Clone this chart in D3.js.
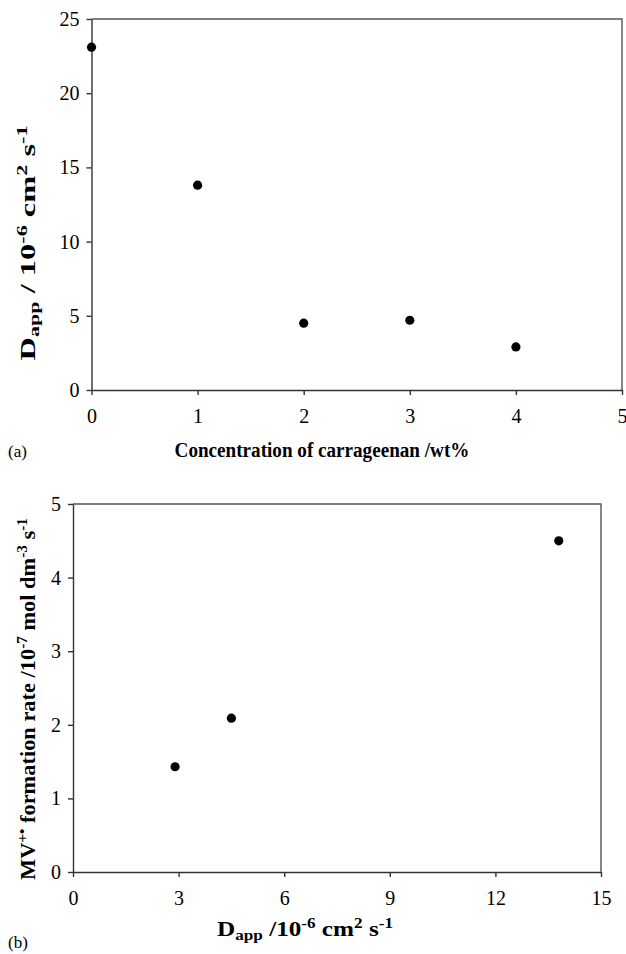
<!DOCTYPE html>
<html>
<head>
<meta charset="utf-8">
<script src="https://cdn.jsdelivr.net/npm/d3@7"></script>
<style>
  body { margin: 0; background: #fff; }
  text { font-family: "Liberation Serif", "Times New Roman", serif; fill: #000; }
</style>
</head>
<body>
<div class="canvas"></div>
<script>
// panel (a): diffusion coefficient vs carrageenan concentration
const concentration = [0, 1, 2, 3, 4];
const dApp = [23.1, 13.8, 4.5, 4.7, 2.9];
const ticksAX = [0, 1, 2, 3, 4, 5];
const ticksAY = [0, 5, 10, 15, 20, 25];

// panel (b): MV+. formation rate vs D_app
const dAppB = [2.9, 4.5, 13.8];
const rateB = [1.43, 2.09, 4.5];
const ticksBX = [0, 3, 6, 9, 12, 15];
const ticksBY = [0, 1, 2, 3, 4, 5];

const serif = '"Liberation Serif", "Times New Roman", serif';

const svg = d3.select('.canvas')
  .append('svg')
  .attr('width', 626)
  .attr('height', 954);

// writes text with sub/superscript pieces
function rich(sel, parts, size) {
  parts.forEach(p => {
    const ts = sel.append('tspan').text(p.t);
    if (p.sup) ts.attr('font-size', size * 0.68).attr('baseline-shift', '55%');
    if (p.sub) ts.attr('font-size', size * 0.68).attr('baseline-shift', '-28%');
  });
}

// label placed at (cx, cy), stretched along its length to len px
function label(g, parts, size, cx, cy, len, rot) {
  const t = g.append('text')
    .attr('text-anchor', 'middle')
    .attr('font-size', size)
    .attr('font-weight', 'bold')
    .attr('font-family', serif);
  rich(t, parts, size);
  const w = t.node().getBBox().width;
  const k = len ? len / w : 1;
  t.attr('transform', `translate(${cx},${cy}) rotate(${rot || 0}) scale(${k},1)`);
  return t;
}

function panel(o) {
  const x = d3.scaleLinear().domain(o.xDom).range([o.left, o.right]);
  const y = d3.scaleLinear().domain(o.yDom).range([o.bottom, o.top]);
  const g = svg.append('g');

  // frame top + right
  g.append('path')
    .attr('d', `M${o.left},${o.top}H${o.right}V${o.bottom}`)
    .attr('fill', 'none')
    .attr('stroke', '#555')
    .attr('stroke-width', 1.4);

  const ax = g.append('g')
    .attr('transform', `translate(0,${o.bottom})`)
    .call(d3.axisBottom(x).tickValues(o.xTicks).tickFormat(d3.format('d'))
      .tickSize(5).tickSizeOuter(0).tickPadding(14));
  const ay = g.append('g')
    .attr('transform', `translate(${o.left},0)`)
    .call(d3.axisLeft(y).tickValues(o.yTicks).tickFormat(d3.format('d'))
      .tickSize(5).tickSizeOuter(0).tickPadding(7));
  [ax, ay].forEach(a => {
    a.attr('font-family', serif).attr('font-size', 20);
    a.selectAll('path, line').attr('stroke', '#333').attr('stroke-width', 1.4);
  });

  g.selectAll('circle')
    .data(o.xs)
    .join('circle')
    .attr('cx', d => x(d))
    .attr('cy', (d, i) => y(o.ys[i]))
    .attr('r', 4.6)
    .attr('fill', '#000');

  label(g, o.xTitle, o.xSize, o.xTitleX, o.xTitleY, o.xLen, 0);
  label(g, o.yTitle, o.ySize, o.yTitleX, o.yTitleY, o.yLen, -90);

  g.append('text')
    .attr('x', 8)
    .attr('y', o.tagY)
    .attr('font-size', 17)
    .attr('font-family', serif)
    .text(o.tag);
}

const dLabel = sep => [{t: 'D'}, {t: 'app', sub: true}, {t: sep + '10'}, {t: '-6', sup: true},
  {t: ' cm'}, {t: '2', sup: true}, {t: ' s'}, {t: '-1', sup: true}];

panel({
  left: 91.5, right: 622, top: 19, bottom: 390,
  xDom: [0, 5], yDom: [0, 25], xTicks: ticksAX, yTicks: ticksAY,
  xs: concentration, ys: dApp,
  xTitle: [{t: 'Concentration of carrageenan /wt%'}],
  xSize: 21, xTitleX: 322, xTitleY: 457, xLen: 295,
  yTitle: dLabel(' / '),
  ySize: 22, yTitleX: 35, yTitleY: 243, yLen: 235,
  tag: '(a)', tagY: 457
});

panel({
  left: 73, right: 601, top: 504, bottom: 872,
  xDom: [0, 15], yDom: [0, 5], xTicks: ticksBX, yTicks: ticksBY,
  xs: dAppB, ys: rateB,
  xTitle: dLabel(' /'),
  xSize: 21, xTitleX: 305, xTitleY: 936, xLen: 176,
  yTitle: [{t: 'MV'}, {t: '+•', sup: true}, {t: ' formation rate /10'}, {t: '-7', sup: true},
    {t: ' mol dm'}, {t: '-3', sup: true}, {t: ' s'}, {t: '-1', sup: true}],
  ySize: 21, yTitleX: 35, yTitleY: 699, yLen: 362,
  tag: '(b)', tagY: 948
});
</script>
</body>
</html>
